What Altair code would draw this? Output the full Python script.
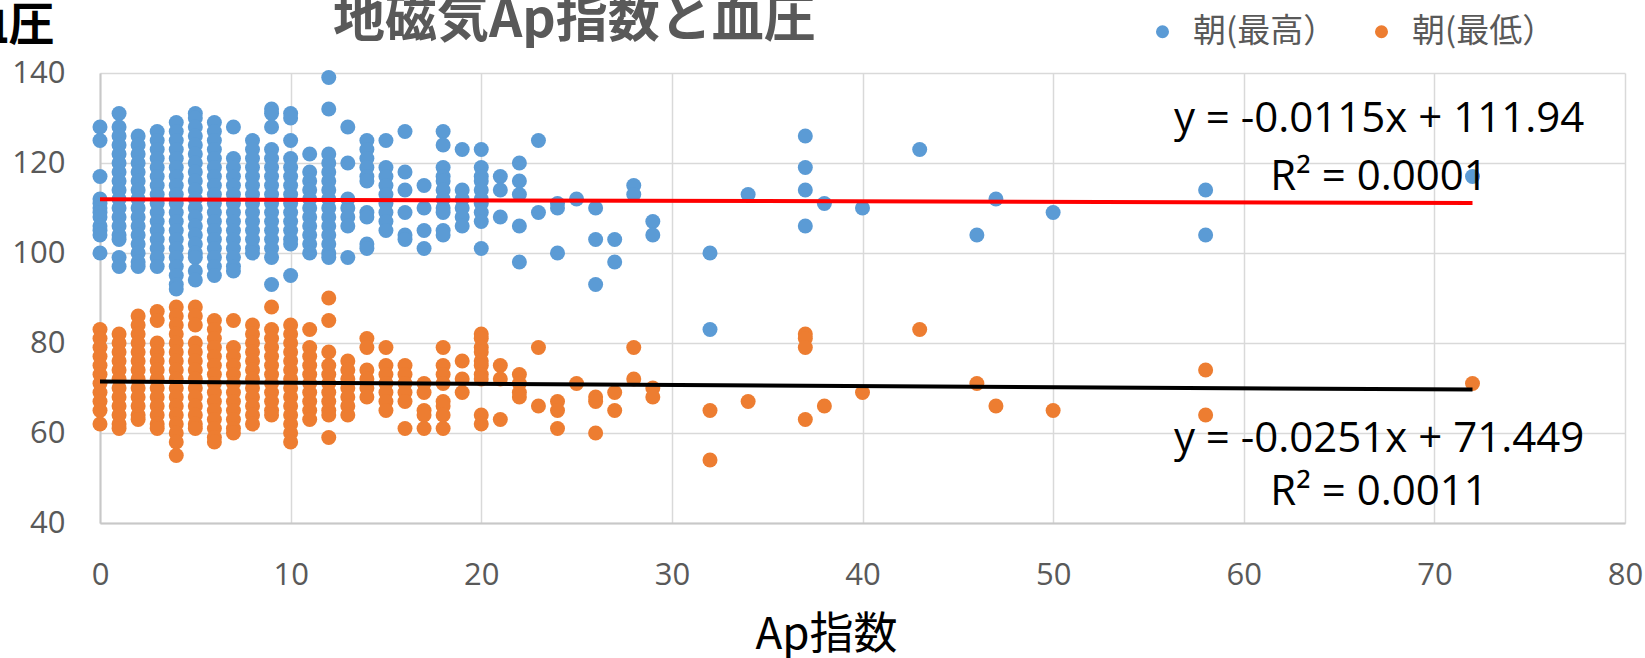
import altair as alt
import pandas as pd

# ---- data (x = Ap index, values = blood pressure) ----
SERIES = ["朝(最高）", "朝(最低）"]
COLORS = ["#5B9BD5", "#ED7D31"]

high_by_ap = {
    0: [128, 125, 117, 112, 111, 110, 109, 108, 106, 105, 104, 100],
    1: [131, 128, 126, 124, 122, 120, 118, 116, 114, 112, 110, 108, 106, 104, 103, 99, 97],
    2: [126, 124, 122, 120, 118, 116, 114, 112, 110, 108, 106, 104, 102, 100, 98, 97],
    3: [127, 125, 123, 121, 119, 117, 115, 113, 111, 109, 107, 105, 103, 101, 99, 97],
    4: [129, 127, 125, 123, 121, 119, 117, 115, 113, 111, 109, 107, 105, 103, 101, 99, 97, 95, 93, 92],
    5: [131, 130, 128, 126, 124, 122, 120, 118, 116, 114, 112, 110, 108, 106, 104, 102, 100, 99, 96, 94],
    6: [129, 127, 125, 123, 121, 119, 117, 115, 113, 111, 109, 107, 105, 103, 101, 99, 97, 95],
    7: [128, 121, 119, 117, 115, 113, 111, 109, 107, 105, 103, 101, 99, 97, 96],
    8: [125, 123, 121, 119, 117, 115, 113, 111, 109, 107, 105, 103, 101, 100],
    9: [132, 131, 128, 123, 121, 119, 117, 115, 113, 111, 109, 107, 105, 103, 101, 99, 93],
    10: [131, 130, 125, 121, 119, 117, 115, 113, 111, 109, 107, 105, 103, 102, 95],
    11: [122, 118, 116, 114, 112, 110, 108, 106, 104, 102, 100],
    12: [139, 132, 122, 120, 118, 116, 114, 112, 110, 108, 106, 104, 102, 100, 99],
    13: [128, 120, 112, 110, 108, 106, 99],
    14: [125, 123, 121, 119, 117, 116, 109, 108, 102, 101],
    15: [125, 119, 117, 115, 113, 111, 109, 107, 105],
    16: [127, 118, 114, 109, 104, 103],
    17: [115, 110, 105, 101],
    18: [127, 124, 119, 117, 116, 114, 112, 110, 109, 105, 104],
    19: [123, 114, 112, 110, 108, 106],
    20: [123, 119, 117, 116, 114, 112, 111, 109, 107, 101],
    21: [117, 114, 108],
    22: [120, 116, 113, 106, 98],
    23: [125, 109],
    24: [111, 110, 100],
    25: [112],
    26: [110, 103, 93],
    27: [103, 98],
    28: [115, 113],
    29: [107, 104],
    32: [100, 83],
    34: [113],
    37: [126, 119, 114, 106],
    38: [111],
    40: [110],
    43: [123],
    46: [104],
    47: [112],
    50: [109],
    58: [114, 104],
    72: [117],
}

low_by_ap = {
    0: [83, 81, 79, 77, 75, 73, 71, 69, 67, 65, 62],
    1: [82, 80, 78, 76, 74, 72, 70, 68, 66, 64, 62, 61],
    2: [86, 84, 82, 80, 78, 76, 74, 72, 70, 68, 66, 64, 63],
    3: [87, 85, 80, 78, 76, 74, 72, 70, 68, 66, 64, 62, 61],
    4: [88, 86, 84, 82, 80, 78, 76, 74, 72, 70, 68, 66, 64, 62, 60, 58, 55],
    5: [88, 86, 84, 80, 78, 76, 74, 72, 70, 68, 66, 64, 62, 61],
    6: [85, 83, 81, 79, 77, 75, 73, 71, 69, 67, 65, 63, 61, 59, 58],
    7: [85, 79, 77, 75, 73, 71, 69, 67, 65, 63, 61, 60],
    8: [84, 82, 80, 78, 76, 74, 72, 70, 68, 66, 64, 62],
    9: [88, 83, 81, 79, 77, 75, 73, 71, 69, 67, 65, 64],
    10: [84, 82, 80, 78, 76, 74, 72, 70, 68, 66, 64, 62, 60, 58],
    11: [83, 79, 77, 75, 73, 71, 69, 67, 65, 63],
    12: [90, 85, 78, 75, 73, 71, 69, 67, 65, 64, 59],
    13: [76, 74, 72, 70, 68, 66, 64],
    14: [81, 79, 74, 72, 70, 68],
    15: [79, 75, 73, 71, 69, 67, 65],
    16: [75, 73, 71, 69, 67, 61],
    17: [71, 69, 65, 64, 61],
    18: [79, 75, 73, 71, 67, 66, 64, 61],
    19: [76, 72, 69],
    20: [82, 81, 79, 78, 76, 75, 73, 72, 64, 62],
    21: [75, 72, 63],
    22: [73, 71, 69, 68],
    23: [79, 66],
    24: [67, 65, 61],
    25: [71],
    26: [68, 67, 60],
    27: [69, 65],
    28: [79, 72],
    29: [70, 68],
    32: [65, 54],
    34: [67],
    37: [82, 81, 79, 63],
    38: [66],
    40: [69],
    43: [83],
    46: [71],
    47: [66],
    50: [65],
    58: [74, 64],
    72: [71],
}

# Excel linear trend lines (coefficients as printed on the chart)
trend_slopes = [-0.0115, -0.0251]
trend_intercepts = [111.94, 71.449]
trend_x_range = [0, 72]
trend_colors = ["#FF0000", "#000000"]

eq_texts = ["y = -0.0115x + 111.94", "R² = 0.0001", "y = -0.0251x + 71.449", "R² = 0.0011"]
eq_x = [67.1, 67.1, 67.1, 67.1]
eq_y = [129.8, 117.0, 58.7, 47.0]

# ---- build tables ----
rows = []
for name, table in zip(SERIES, [high_by_ap, low_by_ap]):
    for ap, vals in table.items():
        for v in vals:
            rows.append({"ap": ap, "bp": v, "series": name})
pts = pd.DataFrame(rows)

trows = []
for name, m, b, c in zip(SERIES, trend_slopes, trend_intercepts, trend_colors):
    for xv in trend_x_range:
        trows.append({"ap": xv, "bp": m * xv + b, "series": name, "lc": c})
trend = pd.DataFrame(trows)

eqs = pd.DataFrame({"ap": eq_x, "bp": eq_y, "t": eq_texts})

NUM_FONT = "Open Sans"
JP_FONT = "Noto Sans CJK JP"

x_scale = alt.Scale(domain=[0, 80], nice=False, zero=False)
y_scale = alt.Scale(domain=[40, 140], nice=False, zero=False)

x_axis = alt.Axis(
    values=list(range(0, 81, 10)), grid=True, gridColor="#d9d9d9", gridWidth=1.5,
    domainColor="#c8c8c8", domainWidth=2, ticks=False, labelFlush=False,
    labelFont=NUM_FONT, labelFontSize=31, labelColor="#595959", labelPadding=37,
    title="Ap指数", titleFont=JP_FONT, titleFontSize=44, titleFontWeight="normal",
    titleColor="#000000", titleX=726, titleY=112, titleBaseline="middle", titleAlign="center",
)
y_axis = alt.Axis(
    values=list(range(40, 141, 20)), grid=True, gridColor="#d9d9d9", gridWidth=1.5,
    domainColor="#c8c8c8", domainWidth=2, ticks=False, labelFlush=False,
    labelFont=NUM_FONT, labelFontSize=31, labelColor="#595959", labelPadding=35,
    title="血圧", titleFont=JP_FONT, titleFontSize=46, titleFontWeight="bold",
    titleColor="#000000", titleAngle=0, titleX=-46, titleY=-48,
    titleAlign="right", titleBaseline="middle",
)

points = alt.Chart(pts).mark_circle(size=225, opacity=1).encode(
    x=alt.X("ap:Q", scale=x_scale, axis=x_axis),
    y=alt.Y("bp:Q", scale=y_scale, axis=y_axis),
    color=alt.Color(
        "series:N",
        scale=alt.Scale(domain=SERIES, range=COLORS),
        sort=SERIES,
        legend=alt.Legend(
            orient="none", legendX=1046, legendY=-58, direction="horizontal", title=None,
            labelFont=JP_FONT, labelFontSize=33, labelColor="#595959",
            symbolType="circle", symbolSize=170, symbolStrokeWidth=0,
            labelOffset=14, columnPadding=28, padding=0,
        ),
    ),
)

lines = alt.Chart(trend).mark_line(strokeWidth=4).encode(
    x="ap:Q", y="bp:Q", detail="series:N", color=alt.Color("lc:N", scale=None)
)

eq_text = alt.Chart(eqs).mark_text(
    font=NUM_FONT, fontSize=42, color="#000000", align="center", baseline="middle"
).encode(x="ap:Q", y="bp:Q", text="t:N")

chart = alt.layer(points, lines, eq_text).properties(
    width=1525,
    height=450,
    autosize=alt.AutoSizeParams(type="none"),
    padding={"left": 100, "top": 73, "right": 20, "bottom": 135},
    title=alt.TitleParams(
        "地磁気Ap指数と血圧", font=JP_FONT, fontSize=52, fontWeight="bold", color="#595959",
        anchor="start", frame="group", dx=233, offset=-71, baseline="middle",
    ),
).configure_view(strokeWidth=0)

chart.save("out.html", embed_options={"renderer": "svg", "actions": False})
